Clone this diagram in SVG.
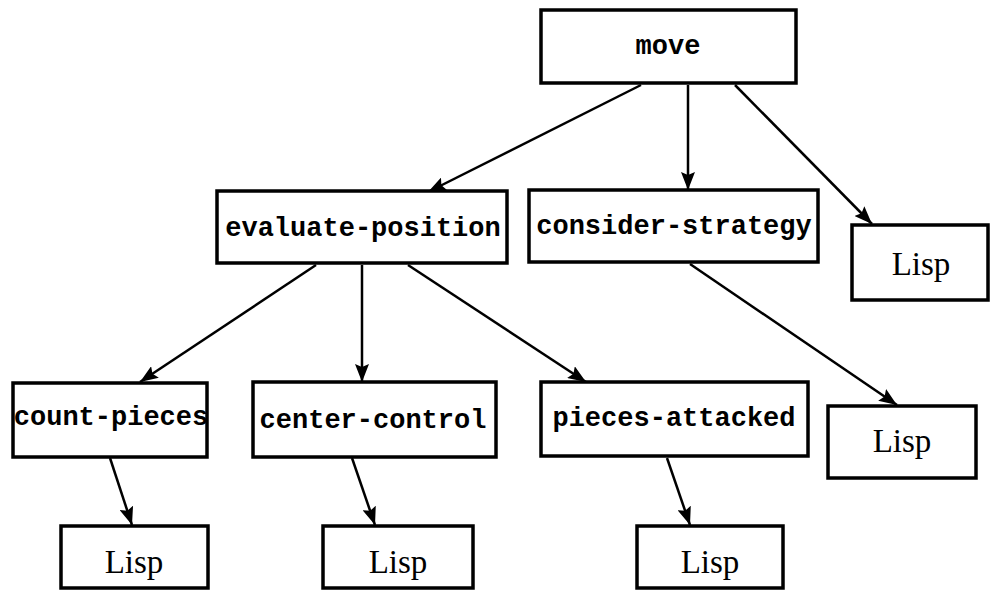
<svg xmlns="http://www.w3.org/2000/svg" width="990" height="600" viewBox="0 0 990 600">
<style>
.box{fill:#fff;stroke:#000;stroke-width:3.5}
.tt{font-family:"Liberation Mono","DejaVu Sans Mono",monospace;font-size:27px;font-weight:bold;text-anchor:middle;fill:#000}
.rm{font-family:"Liberation Serif","DejaVu Serif",serif;font-size:33px;text-anchor:middle;fill:#000}
.edge{stroke:#000;stroke-width:2.5;fill:none;marker-end:url(#ah)}
</style>
<defs>
<marker id="ah" markerUnits="userSpaceOnUse" markerWidth="20" markerHeight="14" refX="18" refY="7" orient="auto" viewBox="0 0 20 14">
<path d="M0,0 L18,7 L0,14 L3,7 Z" fill="#000"/>
</marker>
</defs>
<rect width="990" height="600" fill="#fff"/>
<g id="connectors">
<line class="edge" x1="641" y1="85" x2="428" y2="192"/>
<line class="edge" x1="688" y1="85" x2="688" y2="190"/>
<line class="edge" x1="735" y1="85" x2="872" y2="224"/>
<line class="edge" x1="690" y1="264" x2="897" y2="405"/>
<line class="edge" x1="316" y1="265" x2="140" y2="382"/>
<line class="edge" x1="362" y1="265" x2="362" y2="382"/>
<line class="edge" x1="408" y1="265" x2="586" y2="382"/>
<line class="edge" x1="110" y1="458" x2="132" y2="525"/>
<line class="edge" x1="352" y1="458" x2="375" y2="525"/>
<line class="edge" x1="667" y1="458" x2="690" y2="525"/>
</g>
<g id="move"><rect class="box" x="541" y="10" width="255" height="73"/><text class="tt" x="668" y="54">move</text></g>
<g id="evaluate-position"><rect class="box" x="217" y="191" width="290" height="72"/><text class="tt" x="363" y="236">evaluate-position</text></g>
<g id="consider-strategy"><rect class="box" x="529" y="190" width="289" height="72"/><text class="tt" x="674" y="234">consider-strategy</text></g>
<g id="lisp-move"><rect class="box" x="852" y="225" width="136" height="75"/><text class="rm" x="921" y="275">Lisp</text></g>
<g id="count-pieces"><rect class="box" x="13" y="383" width="194" height="74"/><text class="tt" x="111" y="425">count-pieces</text></g>
<g id="center-control"><rect class="box" x="253" y="382" width="243" height="75"/><text class="tt" x="373" y="428">center-control</text></g>
<g id="pieces-attacked"><rect class="box" x="541" y="382" width="267" height="74"/><text class="tt" x="674" y="426">pieces-attacked</text></g>
<g id="lisp-strategy"><rect class="box" x="828" y="406" width="148" height="72"/><text class="rm" x="902" y="452">Lisp</text></g>
<g id="lisp-count"><rect class="box" x="61" y="526" width="147" height="62"/><text class="rm" x="134" y="573">Lisp</text></g>
<g id="lisp-center"><rect class="box" x="323" y="526" width="150" height="62"/><text class="rm" x="398" y="573">Lisp</text></g>
<g id="lisp-pieces"><rect class="box" x="637" y="526" width="146" height="62"/><text class="rm" x="710" y="573">Lisp</text></g>
</svg>
